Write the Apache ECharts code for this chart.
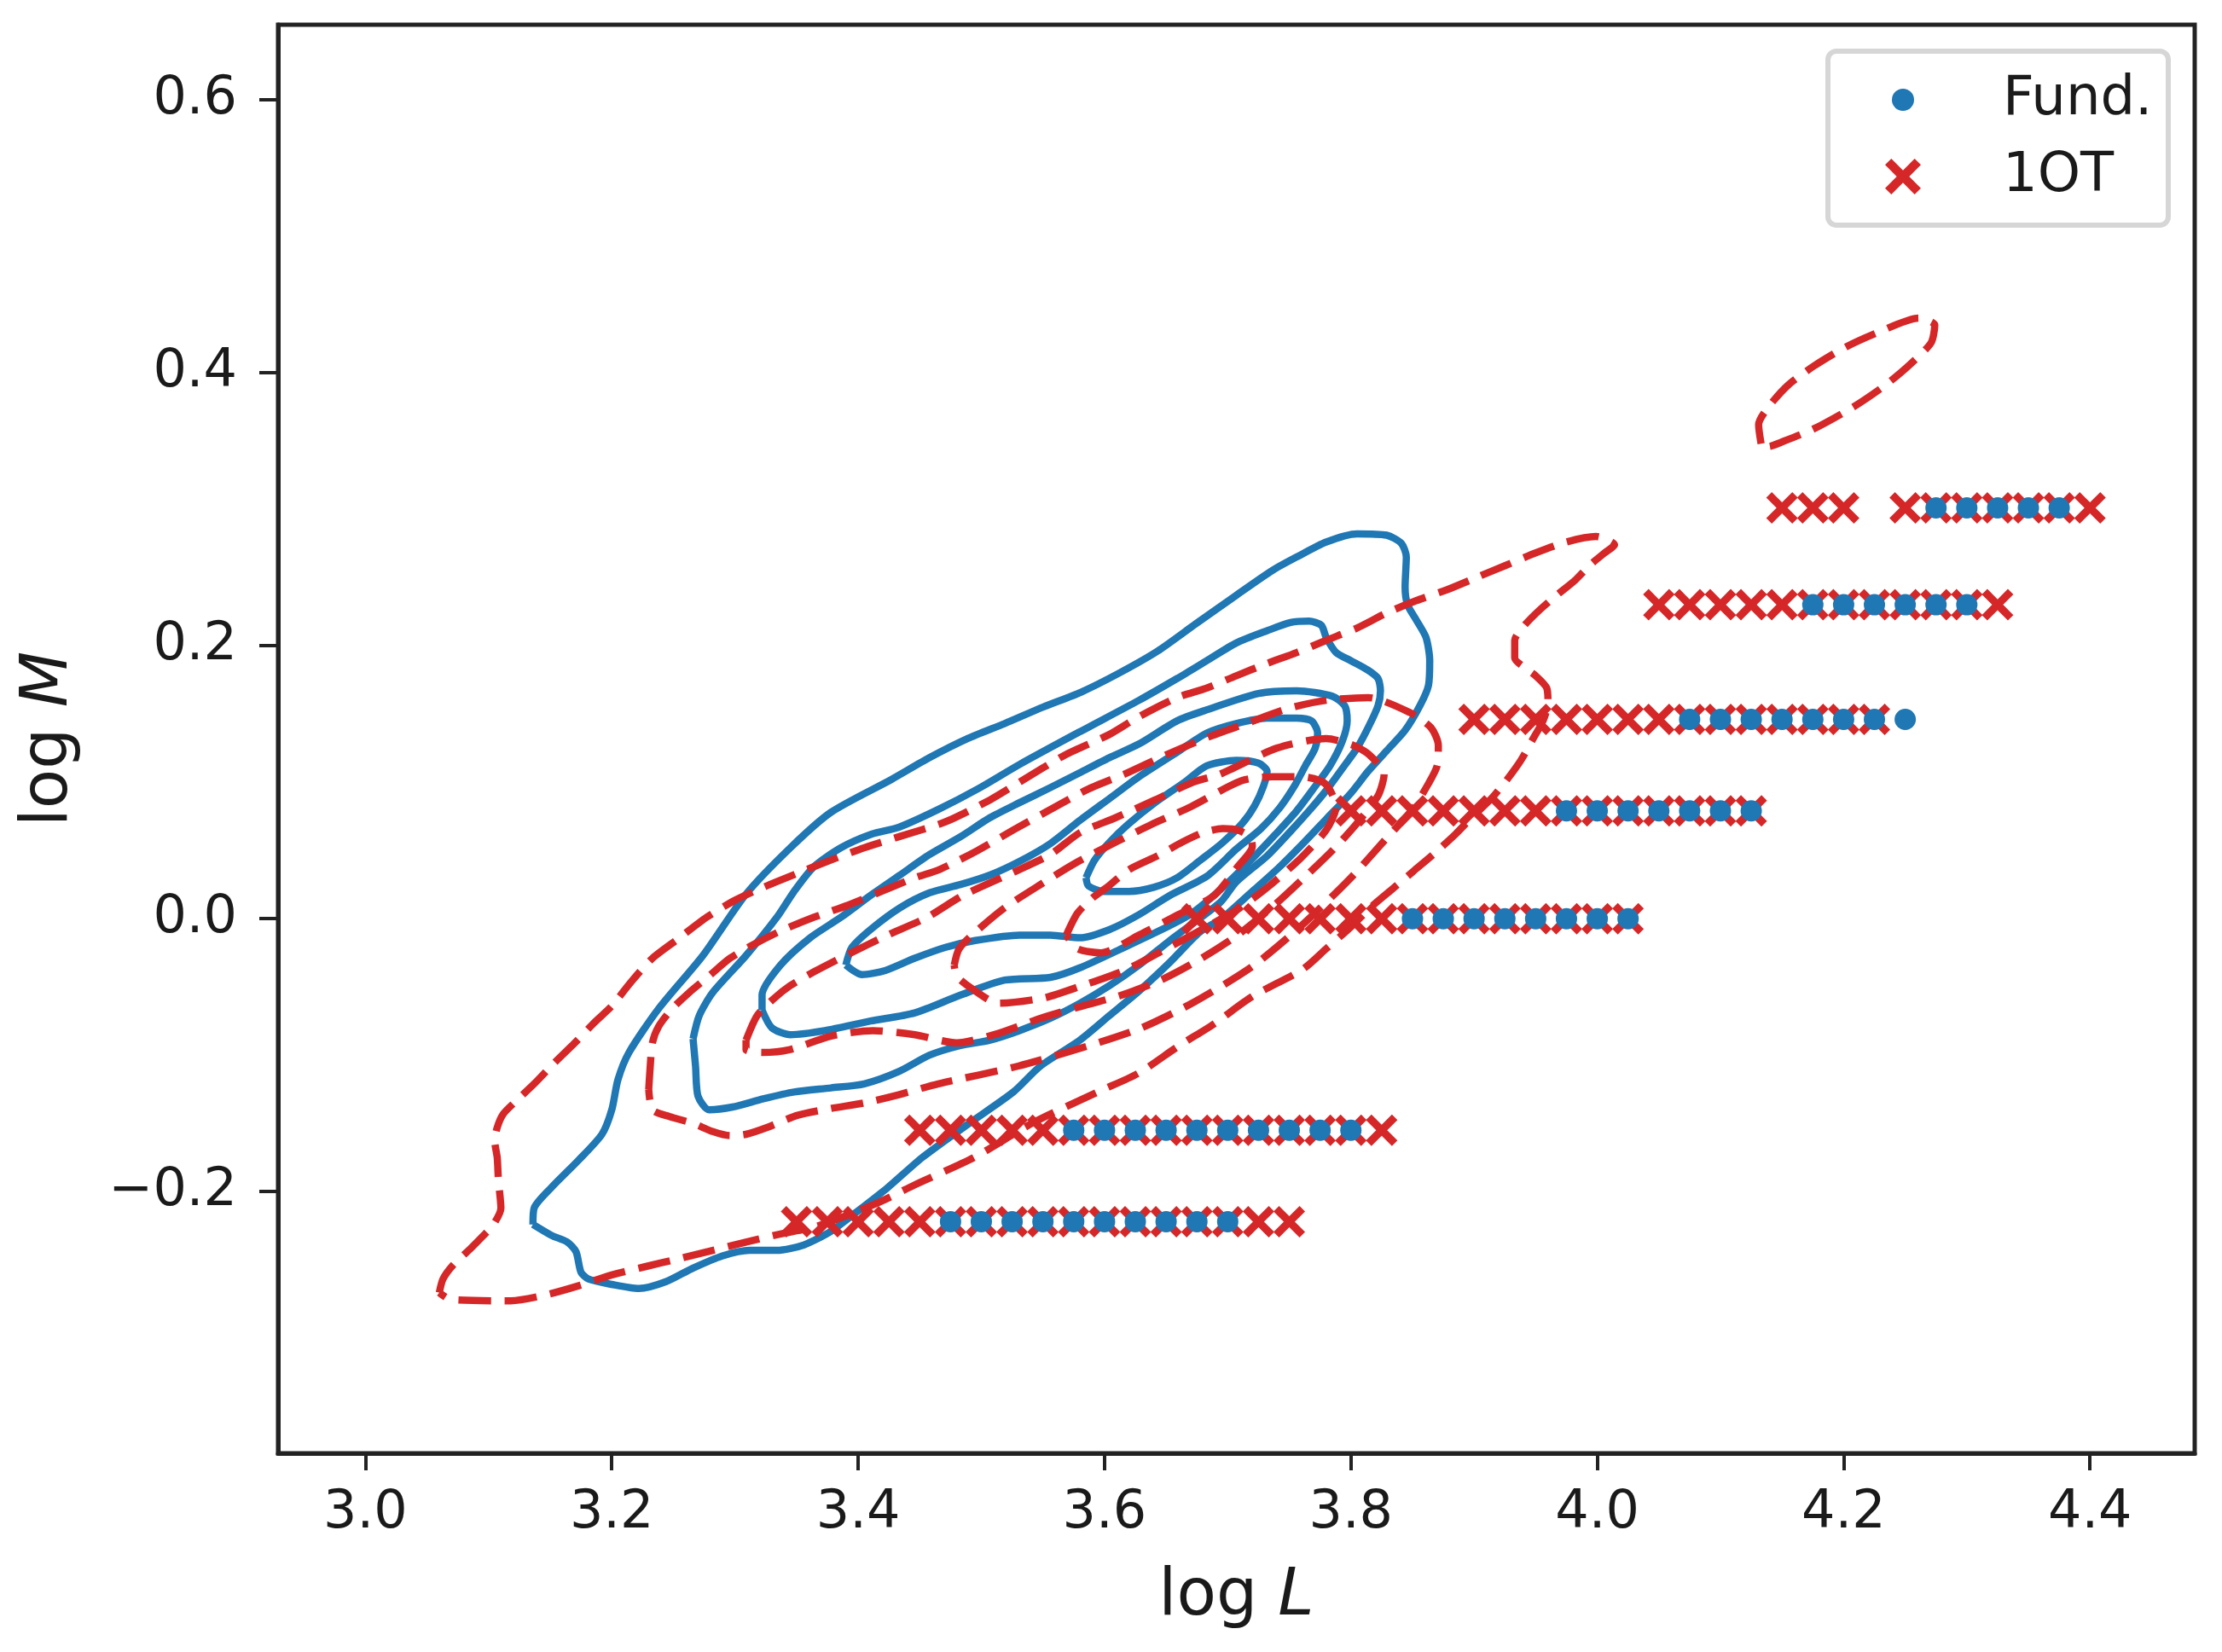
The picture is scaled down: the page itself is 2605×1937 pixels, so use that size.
<!DOCTYPE html>
<html>
<head>
<meta charset="utf-8">
<script src="https://cdn.jsdelivr.net/npm/echarts@6/dist/echarts.min.js"></script>
<style>html,body{margin:0;padding:0;background:#fff}#chart{width:2605px;height:1937px}</style>
</head>
<body>
<div id="chart"></div>
<script>
// ---- tick labels ----
const xTicks = [3.0, 3.2, 3.4, 3.6, 3.8, 4.0, 4.2, 4.4];
const yTicks = [-0.2, 0.0, 0.2, 0.4, 0.6];

// ---- model grid rows (log M) ----
const rowLogM = [0.301, 0.230, 0.146, 0.079, 0.000, -0.155, -0.222];

// Fund. points: log L per row
const fundLogL = [
  [4.275, 4.300, 4.325, 4.350, 4.375],
  [4.175, 4.200, 4.225, 4.250, 4.275, 4.300],
  [4.075, 4.100, 4.125, 4.150, 4.175, 4.200, 4.225, 4.250],
  [3.975, 4.000, 4.025, 4.050, 4.075, 4.100, 4.125],
  [3.850, 3.875, 3.900, 3.925, 3.950, 3.975, 4.000, 4.025],
  [3.575, 3.600, 3.625, 3.650, 3.675, 3.700, 3.725, 3.750, 3.775, 3.800],
  [3.475, 3.500, 3.525, 3.550, 3.575, 3.600, 3.625, 3.650, 3.675, 3.700]
];

// 1OT points: log L per row
const otLogL = [
  [4.150, 4.175, 4.200, 4.250, 4.275, 4.300, 4.325, 4.350, 4.375, 4.400],
  [4.050, 4.075, 4.100, 4.125, 4.150, 4.175, 4.200, 4.225, 4.250, 4.275, 4.300, 4.325],
  [3.900, 3.925, 3.950, 3.975, 4.000, 4.025, 4.050, 4.075, 4.100, 4.125, 4.150, 4.175, 4.200, 4.225],
  [3.800, 3.825, 3.850, 3.875, 3.900, 3.925, 3.950, 3.975, 4.000, 4.025, 4.050, 4.075, 4.100, 4.125],
  [3.675, 3.700, 3.725, 3.750, 3.775, 3.800, 3.825, 3.850, 3.875, 3.900, 3.925, 3.950, 3.975, 4.000, 4.025],
  [3.450, 3.475, 3.500, 3.525, 3.550, 3.575, 3.600, 3.625, 3.650, 3.675, 3.700, 3.725, 3.750, 3.775, 3.800, 3.825],
  [3.350, 3.375, 3.400, 3.425, 3.450, 3.475, 3.500, 3.525, 3.550, 3.575, 3.600, 3.625, 3.650, 3.675, 3.700, 3.725, 3.750]
];

// ---- density contours, Fund. (solid) ----
const fundC1 = [[3.136,-0.224],[3.137,-0.212],[3.151,-0.197],[3.173,-0.177],[3.192,-0.158],[3.200,-0.140],[3.205,-0.118],[3.214,-0.098],[3.238,-0.066],[3.274,-0.027],[3.309,0.018],[3.345,0.052],[3.378,0.078],[3.427,0.102],[3.458,0.118],[3.489,0.132],[3.519,0.143],[3.550,0.155],[3.581,0.166],[3.612,0.180],[3.643,0.196],[3.674,0.216],[3.707,0.237],[3.736,0.255],[3.756,0.265],[3.780,0.276],[3.805,0.282],[3.829,0.281],[3.841,0.275],[3.845,0.265],[3.844,0.243],[3.846,0.230],[3.853,0.219],[3.861,0.206],[3.864,0.189],[3.863,0.171],[3.856,0.156],[3.844,0.138],[3.829,0.123],[3.814,0.108],[3.800,0.092],[3.780,0.073],[3.761,0.055],[3.741,0.037],[3.720,0.020],[3.695,0.000],[3.677,-0.010],[3.653,-0.032],[3.628,-0.053],[3.604,-0.071],[3.580,-0.089],[3.548,-0.108],[3.526,-0.127],[3.490,-0.150],[3.452,-0.175],[3.424,-0.197],[3.400,-0.214],[3.378,-0.229],[3.356,-0.239],[3.334,-0.243],[3.312,-0.243],[3.290,-0.247],[3.266,-0.256],[3.244,-0.266],[3.222,-0.271],[3.200,-0.268],[3.181,-0.264],[3.175,-0.259],[3.171,-0.244],[3.164,-0.237],[3.151,-0.232],[3.136,-0.224]];
const fundC2 = [[3.266,-0.088],[3.271,-0.071],[3.282,-0.054],[3.309,-0.027],[3.334,0.001],[3.348,0.020],[3.364,0.038],[3.386,0.052],[3.411,0.062],[3.433,0.067],[3.465,0.080],[3.497,0.095],[3.531,0.113],[3.580,0.137],[3.628,0.160],[3.659,0.176],[3.683,0.189],[3.707,0.202],[3.732,0.211],[3.751,0.217],[3.766,0.218],[3.776,0.215],[3.780,0.206],[3.788,0.195],[3.800,0.189],[3.814,0.182],[3.822,0.176],[3.824,0.167],[3.822,0.156],[3.814,0.140],[3.805,0.125],[3.793,0.110],[3.780,0.094],[3.766,0.079],[3.751,0.064],[3.732,0.046],[3.707,0.027],[3.694,0.012],[3.653,-0.016],[3.628,-0.034],[3.604,-0.049],[3.580,-0.062],[3.556,-0.073],[3.531,-0.082],[3.507,-0.089],[3.483,-0.093],[3.458,-0.100],[3.433,-0.112],[3.405,-0.121],[3.378,-0.124],[3.348,-0.127],[3.323,-0.132],[3.298,-0.138],[3.279,-0.140],[3.270,-0.130],[3.268,-0.108],[3.266,-0.088]];
const fundC3 = [[3.322,-0.067],[3.322,-0.056],[3.337,-0.034],[3.361,-0.014],[3.386,0.001],[3.410,0.017],[3.434,0.032],[3.458,0.047],[3.483,0.060],[3.507,0.074],[3.531,0.085],[3.556,0.096],[3.580,0.107],[3.604,0.118],[3.628,0.128],[3.659,0.145],[3.683,0.153],[3.725,0.165],[3.756,0.167],[3.785,0.163],[3.795,0.156],[3.797,0.145],[3.793,0.130],[3.783,0.112],[3.771,0.097],[3.756,0.079],[3.739,0.062],[3.720,0.044],[3.695,0.022],[3.671,0.004],[3.653,-0.005],[3.616,-0.021],[3.580,-0.036],[3.556,-0.043],[3.519,-0.045],[3.483,-0.056],[3.446,-0.069],[3.410,-0.075],[3.373,-0.082],[3.345,-0.085],[3.330,-0.080],[3.322,-0.067]];
const fundC4 = [[3.390,-0.034],[3.395,-0.021],[3.410,-0.008],[3.434,0.008],[3.458,0.019],[3.483,0.025],[3.507,0.032],[3.531,0.042],[3.556,0.055],[3.580,0.072],[3.604,0.088],[3.628,0.104],[3.659,0.122],[3.683,0.136],[3.707,0.143],[3.732,0.147],[3.756,0.147],[3.768,0.145],[3.773,0.136],[3.771,0.125],[3.763,0.112],[3.754,0.097],[3.742,0.081],[3.727,0.066],[3.707,0.051],[3.683,0.031],[3.653,0.017],[3.628,0.003],[3.604,-0.008],[3.580,-0.014],[3.556,-0.012],[3.531,-0.012],[3.495,-0.016],[3.471,-0.021],[3.446,-0.029],[3.422,-0.038],[3.403,-0.041],[3.390,-0.034]];
const fundC5 = [[3.585,0.030],[3.592,0.043],[3.604,0.056],[3.619,0.069],[3.641,0.085],[3.665,0.100],[3.683,0.112],[3.707,0.116],[3.725,0.114],[3.732,0.108],[3.729,0.097],[3.722,0.083],[3.712,0.070],[3.695,0.055],[3.678,0.043],[3.659,0.030],[3.640,0.023],[3.620,0.020],[3.599,0.020],[3.587,0.024],[3.585,0.030]];

// ---- density contours, 1OT (dashed) ----
const otC1 = [[3.060,-0.274],[3.063,-0.264],[3.071,-0.254],[3.085,-0.242],[3.096,-0.232],[3.104,-0.224],[3.110,-0.212],[3.108,-0.192],[3.107,-0.175],[3.105,-0.163],[3.107,-0.153],[3.112,-0.143],[3.123,-0.133],[3.137,-0.121],[3.153,-0.106],[3.170,-0.091],[3.186,-0.076],[3.200,-0.064],[3.216,-0.046],[3.233,-0.029],[3.255,-0.014],[3.277,0.001],[3.299,0.013],[3.323,0.023],[3.350,0.033],[3.378,0.043],[3.405,0.052],[3.433,0.060],[3.471,0.071],[3.507,0.087],[3.531,0.100],[3.568,0.120],[3.604,0.135],[3.628,0.148],[3.659,0.162],[3.683,0.169],[3.707,0.178],[3.732,0.187],[3.756,0.195],[3.780,0.204],[3.805,0.213],[3.829,0.224],[3.853,0.233],[3.878,0.241],[3.902,0.250],[3.926,0.259],[3.950,0.268],[3.975,0.276],[3.999,0.280],[4.014,0.274],[4.006,0.268],[3.994,0.259],[3.982,0.248],[3.967,0.237],[3.953,0.226],[3.941,0.215],[3.933,0.204],[3.933,0.191],[3.941,0.184],[3.950,0.178],[3.959,0.169],[3.960,0.158],[3.956,0.145],[3.948,0.132],[3.938,0.116],[3.926,0.101],[3.914,0.088],[3.899,0.075],[3.885,0.062],[3.868,0.048],[3.851,0.035],[3.834,0.022],[3.817,0.009],[3.800,-0.006],[3.780,-0.022],[3.761,-0.037],[3.720,-0.057],[3.689,-0.077],[3.659,-0.094],[3.628,-0.113],[3.597,-0.126],[3.543,-0.149],[3.494,-0.175],[3.446,-0.195],[3.419,-0.207],[3.392,-0.217],[3.364,-0.226],[3.337,-0.231],[3.309,-0.237],[3.282,-0.243],[3.255,-0.249],[3.227,-0.255],[3.200,-0.261],[3.173,-0.269],[3.145,-0.276],[3.118,-0.280],[3.069,-0.279],[3.060,-0.274]];
const otC1b = [[4.133,0.348],[4.131,0.362],[4.139,0.375],[4.155,0.391],[4.176,0.405],[4.202,0.419],[4.229,0.430],[4.261,0.440],[4.274,0.435],[4.271,0.422],[4.255,0.407],[4.234,0.391],[4.208,0.375],[4.176,0.359],[4.149,0.349],[4.139,0.346],[4.133,0.348]];
const otC2 = [[3.230,-0.125],[3.231,-0.111],[3.233,-0.091],[3.238,-0.079],[3.249,-0.066],[3.263,-0.054],[3.279,-0.042],[3.296,-0.029],[3.315,-0.019],[3.337,-0.009],[3.364,0.001],[3.392,0.010],[3.419,0.020],[3.446,0.030],[3.466,0.036],[3.497,0.050],[3.526,0.065],[3.556,0.080],[3.587,0.095],[3.619,0.107],[3.650,0.120],[3.684,0.133],[3.715,0.143],[3.749,0.154],[3.780,0.160],[3.814,0.162],[3.848,0.151],[3.865,0.140],[3.871,0.127],[3.870,0.112],[3.863,0.099],[3.850,0.080],[3.830,0.060],[3.800,0.030],[3.760,-0.005],[3.720,-0.035],[3.673,-0.061],[3.630,-0.080],[3.591,-0.092],[3.530,-0.108],[3.465,-0.121],[3.433,-0.129],[3.405,-0.135],[3.378,-0.139],[3.351,-0.144],[3.326,-0.153],[3.309,-0.158],[3.296,-0.159],[3.282,-0.156],[3.266,-0.150],[3.247,-0.145],[3.233,-0.140],[3.230,-0.125]];
const otC3 = [[3.309,-0.089],[3.318,-0.071],[3.331,-0.059],[3.345,-0.049],[3.364,-0.039],[3.392,-0.026],[3.424,-0.012],[3.456,0.001],[3.485,0.017],[3.526,0.034],[3.556,0.047],[3.580,0.063],[3.609,0.074],[3.641,0.087],[3.672,0.100],[3.694,0.106],[3.740,0.125],[3.780,0.132],[3.802,0.127],[3.815,0.120],[3.827,0.106],[3.822,0.090],[3.805,0.070],[3.785,0.050],[3.762,0.030],[3.738,0.010],[3.708,-0.012],[3.677,-0.030],[3.648,-0.044],[3.614,-0.056],[3.582,-0.064],[3.548,-0.073],[3.514,-0.084],[3.480,-0.091],[3.446,-0.085],[3.412,-0.082],[3.378,-0.086],[3.344,-0.096],[3.322,-0.098],[3.309,-0.096],[3.309,-0.089]];
const otC4 = [[3.478,-0.034],[3.482,-0.022],[3.495,-0.010],[3.519,0.008],[3.548,0.025],[3.577,0.041],[3.609,0.056],[3.638,0.069],[3.670,0.082],[3.711,0.101],[3.736,0.104],[3.760,0.104],[3.779,0.099],[3.788,0.082],[3.780,0.065],[3.760,0.045],[3.735,0.025],[3.710,0.008],[3.679,-0.008],[3.648,-0.023],[3.616,-0.038],[3.582,-0.049],[3.551,-0.058],[3.514,-0.062],[3.492,-0.051],[3.480,-0.042],[3.478,-0.034]];
const otC5 = [[3.569,-0.012],[3.578,0.004],[3.590,0.015],[3.602,0.023],[3.620,0.036],[3.643,0.046],[3.663,0.056],[3.680,0.063],[3.696,0.066],[3.708,0.065],[3.718,0.060],[3.720,0.053],[3.708,0.038],[3.689,0.017],[3.660,0.003],[3.628,-0.012],[3.597,-0.025],[3.578,-0.022],[3.569,-0.012]];

// ---- styling ----
const BLUE = '#1f77b4';
const RED = '#d62728';
const INK = '#1a1a1a';
const FONT = 'DejaVu Sans';
const X_PATH = 'path://M2.12,0L6.06,3.94L10,0L12.12,2.12L8.18,6.06L12.12,10L10,12.12L6.06,8.18L2.12,12.12L0,10L3.94,6.06L0,2.12Z';

const fundPoints = [];
fundLogL.forEach((row, i) => row.forEach(x => fundPoints.push([x, rowLogM[i]])));
const otPoints = [];
otLogL.forEach((row, i) => row.forEach(x => otPoints.push([x, rowLogM[i]])));

function contour(name, data, color, dashed, z) {
  return {
    name: name, type: 'line', data: data, z: z, silent: true,
    symbol: 'none', showSymbol: false, smooth: 0.25, clip: true, animation: false,
    lineStyle: { color: color, width: 8.5, type: dashed ? [38, 16] : 'solid', cap: 'butt', join: 'round' }
  };
}

const series = [];
[fundC1, fundC2, fundC3, fundC4, fundC5].forEach((c, i) => series.push(contour('Fund. density ' + (i + 1), c, BLUE, false, 2)));
[otC1, otC1b, otC2, otC3, otC4, otC5].forEach((c, i) => series.push(contour('1OT density ' + (i + 1), c, RED, true, 3)));
series.push({ name: '1OT', type: 'scatter', data: otPoints, symbol: X_PATH, symbolSize: 37, z: 4, itemStyle: { color: RED, opacity: 1 } });
series.push({ name: 'Fund.', type: 'scatter', data: fundPoints, symbol: 'circle', symbolSize: 25, z: 5, itemStyle: { color: BLUE, opacity: 1 } });

const fmt = v => (v < -1e-9 ? '\u2212' : '') + Math.abs(v).toFixed(1);

const chart = echarts.init(document.getElementById('chart'), null, { renderer: 'canvas' });
chart.setOption({
  animation: false,
  backgroundColor: '#ffffff',
  grid: { left: 326, right: 32, top: 29, bottom: 233, show: true, borderColor: '#222', borderWidth: 5, backgroundColor: 'transparent' },
  xAxis: {
    type: 'value', position: 'bottom', min: 2.9291, max: 4.4850,
    axisLine: { show: true, onZero: false, lineStyle: { color: '#222', width: 5 } },
    splitLine: { show: false },
    axisTick: { show: true, inside: false, length: 20, customValues: xTicks, lineStyle: { color: '#222', width: 4 } },
    axisLabel: { customValues: xTicks, formatter: fmt, fontSize: 62, fontFamily: FONT, color: INK, margin: 40 },
    name: '{a|log }{b|L}', nameLocation: 'middle', nameGap: 131,
    nameTextStyle: { fontSize: 76, fontFamily: FONT, color: INK,
      rich: { a: { fontSize: 76, fontFamily: FONT, color: INK }, b: { fontSize: 76, fontFamily: FONT, fontStyle: 'italic', color: INK } } }
  },
  yAxis: {
    type: 'value', position: 'left', min: -0.3917, max: 0.655,
    axisLine: { show: true, onZero: false, lineStyle: { color: '#222', width: 5 } },
    splitLine: { show: false },
    axisTick: { show: true, inside: false, length: 22, customValues: yTicks, lineStyle: { color: '#222', width: 4 } },
    axisLabel: { customValues: yTicks, formatter: fmt, fontSize: 62, fontFamily: FONT, color: INK, margin: 48 },
    name: '{a|log }{b|M}', nameLocation: 'middle', nameGap: 230, nameRotate: 90,
    nameTextStyle: { fontSize: 76, fontFamily: FONT, color: INK,
      rich: { a: { fontSize: 76, fontFamily: FONT, color: INK }, b: { fontSize: 76, fontFamily: FONT, fontStyle: 'italic', color: INK } } }
  },
  legend: [
    { data: [{ name: 'Fund.', icon: 'circle' }], orient: 'vertical', left: 2218, top: 85, padding: 0,
      itemWidth: 26, itemHeight: 26, selectedMode: false, z: 6,
      textStyle: { fontSize: 64, fontFamily: FONT, color: INK, padding: [0, 0, 0, 99] } },
    { data: [{ name: '1OT', icon: X_PATH }], orient: 'vertical', left: 2210, top: 175, padding: 0,
      itemWidth: 42, itemHeight: 42, selectedMode: false, z: 6,
      textStyle: { fontSize: 64, fontFamily: FONT, color: INK, padding: [0, 0, 0, 91] } }
  ],
  graphic: [
    { type: 'rect', z: 5, silent: true,
      shape: { x: 2143, y: 60, width: 399, height: 204, r: 10 },
      style: { fill: 'rgba(255,255,255,0.8)', stroke: '#d6d6d6', lineWidth: 6 } }
  ],
  series: series
});
</script>
</body>
</html>
